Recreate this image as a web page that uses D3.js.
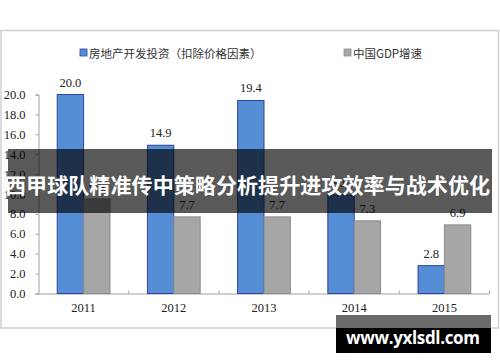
<!DOCTYPE html>
<html>
<head>
<meta charset="utf-8">
<script src="https://cdn.jsdelivr.net/npm/d3@7"></script>
<style>
  body { margin: 0; background: #fff; }
  svg { display: block; }
</style>
</head>
<body>
<div id="chart"></div>
<script>
// Data
var years = ["2011", "2012", "2013", "2014", "2015"];
var seriesNames = ["房地产开发投资（扣除价格因素）", "中国GDP增速"];
var investValues = [20.0, 14.9, 19.4, 9.9, 2.8];
var gdpValues = [9.5, 7.7, 7.7, 7.3, 6.9];
var yTicks = [0, 2, 4, 6, 8, 10, 12, 14, 16, 18, 20];

var svgWidth = 500;
var svgHeight = 362;

var colors = {
  fill: ["#558ed5", "#a6a6a6"],
  stroke: ["#2f45a0", "#8c8c8c"]
};

var serif = "'Liberation Serif', 'Times New Roman', serif";
var cjk = "'Noto Sans CJK SC', 'Noto Sans', sans-serif";

var svg = d3.select("#chart")
  .append("svg")
  .attr("width", svgWidth)
  .attr("height", svgHeight);

// Outer chart frame
svg.append("rect")
  .attr("x", 1)
  .attr("y", 30.5)
  .attr("width", 497.5)
  .attr("height", 297.5)
  .attr("fill", "#fff")
  .attr("stroke", "#cfcfcf")
  .attr("stroke-width", 1.5);

// Scales
var xScale = d3.scaleBand()
  .domain(years)
  .range([38.5, 489.5]);

var subScale = d3.scaleBand()
  .domain([0, 1])
  .range([0, xScale.bandwidth()])
  .paddingOuter(0.71);

var yScale = d3.scaleLinear()
  .domain([0, 20])
  .range([293.5, 94.5]);

// Y axis
var leftAxis = d3.axisLeft(yScale)
  .tickValues(yTicks)
  .tickSize(3)
  .tickPadding(10)
  .tickFormat(d3.format(".1f"));

var yAxis = svg.append("g")
  .attr("transform", "translate(38.5, 0)")
  .call(leftAxis);

yAxis.select(".domain").attr("stroke", "#a0a0a0");
yAxis.selectAll(".tick line").attr("stroke", "#a0a0a0");
yAxis.selectAll(".tick text")
  .attr("fill", "#222")
  .style("font-family", serif)
  .style("font-size", "12.5px");

// X axis
var bottomAxis = d3.axisBottom(xScale)
  .tickSize(0)
  .tickPadding(10);

var xAxis = svg.append("g")
  .attr("transform", "translate(0, 293.5)")
  .call(bottomAxis);

xAxis.select(".domain").attr("stroke", "#a0a0a0");
xAxis.selectAll(".tick text")
  .attr("fill", "#222")
  .style("font-family", serif)
  .style("font-size", "12.5px");

// Category boundary ticks pointing upward
xAxis.selectAll(".boundary")
  .data(years.slice(1).concat(["end"]))
  .enter()
  .append("line")
  .attr("x1", function(d, i) { return xScale.range()[0] + xScale.step() * (i + 1); })
  .attr("x2", function(d, i) { return xScale.range()[0] + xScale.step() * (i + 1); })
  .attr("y1", 0)
  .attr("y2", -3)
  .attr("stroke", "#a0a0a0");

// Bars
var allSeries = [investValues, gdpValues];

allSeries.forEach(function(values, s) {
  var group = svg.append("g").classed("series-" + s, true);

  group.selectAll("rect")
    .data(values)
    .enter()
    .append("rect")
    .attr("x", function(d, i) { return xScale(years[i]) + subScale(s); })
    .attr("y", function(d) { return yScale(d); })
    .attr("width", subScale.bandwidth())
    .attr("height", function(d) { return yScale(0) - yScale(d); })
    .attr("fill", colors.fill[s])
    .attr("stroke", colors.stroke[s])
    .attr("stroke-width", 1);

  group.selectAll("text")
    .data(values)
    .enter()
    .append("text")
    .attr("x", function(d, i) { return xScale(years[i]) + subScale(s) + subScale.bandwidth() / 2; })
    .attr("y", function(d) { return yScale(d) - 8; })
    .attr("text-anchor", "middle")
    .attr("fill", "#222")
    .style("font-family", serif)
    .style("font-size", "12.5px")
    .text(function(d) { return d3.format(".1f")(d); });
});

// Legend
var legendX = [80, 344];
var legend = svg.append("g").classed("legend", true);

seriesNames.forEach(function(name, s) {
  legend.append("rect")
    .attr("x", legendX[s])
    .attr("y", 49)
    .attr("width", 7)
    .attr("height", 7)
    .attr("fill", colors.fill[s])
    .attr("stroke", colors.stroke[s])
    .attr("stroke-width", 0.8);

  legend.append("text")
    .attr("x", legendX[s] + 9)
    .attr("y", 52.5)
    .attr("dominant-baseline", "central")
    .attr("fill", "#333")
    .style("font-family", cjk)
    .style("font-size", "11.5px")
    .text(name);
});

// Title banner overlay
svg.append("rect")
  .attr("x", 8)
  .attr("y", 149)
  .attr("width", 484)
  .attr("height", 64)
  .attr("fill", "#000")
  .attr("fill-opacity", 0.65);

svg.append("text")
  .attr("x", 5)
  .attr("y", 183.5)
  .attr("dominant-baseline", "central")
  .attr("fill", "#fff")
  .style("font-family", cjk)
  .style("font-weight", "bold")
  .style("font-size", "21px")
  .attr("textLength", 485)
  .text("西甲球队精准传中策略分析提升进攻效率与战术优化");

// Watermark
svg.append("rect")
  .attr("x", 336)
  .attr("y", 315)
  .attr("width", 155)
  .attr("height", 13)
  .attr("fill", "#6b6b6b");

svg.append("rect")
  .attr("x", 336)
  .attr("y", 328)
  .attr("width", 155)
  .attr("height", 25)
  .attr("fill", "#000");

svg.append("text")
  .attr("x", 346)
  .attr("y", 337.5)
  .attr("dominant-baseline", "central")
  .attr("fill", "#fff")
  .style("font-family", "'Open Sans', 'DejaVu Sans', sans-serif")
  .style("font-weight", "bold")
  .style("font-size", "17px")
  .attr("textLength", 134)
  .text("www.yxlsdl.com");
</script>
</body>
</html>
